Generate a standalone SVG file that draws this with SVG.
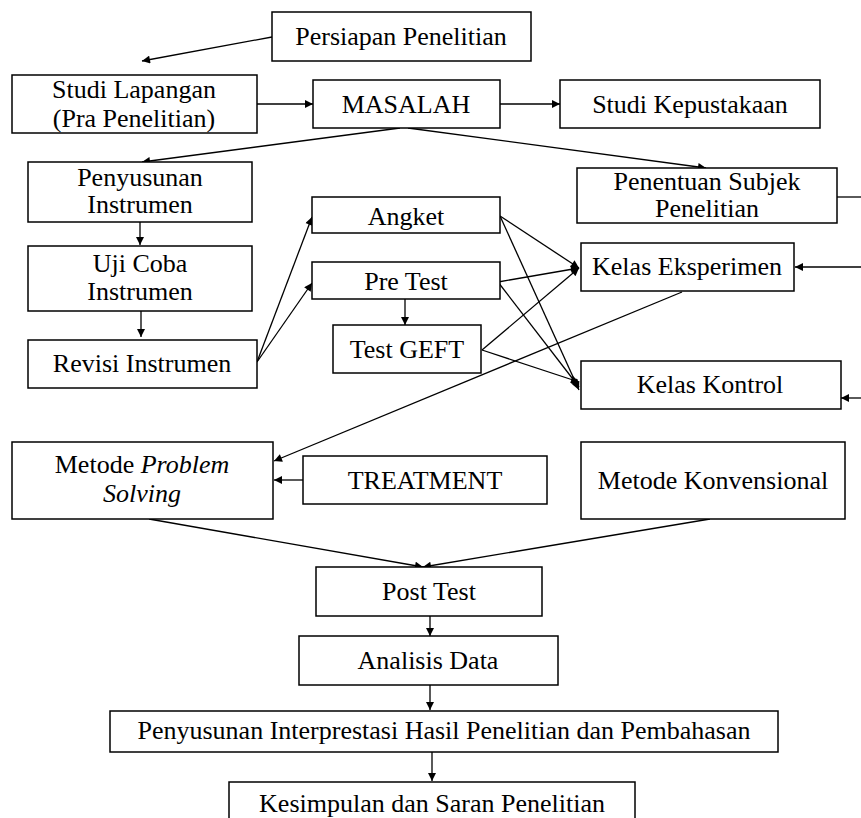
<svg xmlns="http://www.w3.org/2000/svg" width="861" height="818" viewBox="0 0 861 818">
<defs>
<style>
.box{fill:#fff;stroke:#000;stroke-width:1.5}
.t{font-family:"Liberation Serif","Times New Roman",serif;font-size:26px;fill:#000;text-anchor:middle}
.c{fill:none;stroke:#000;stroke-width:1.3}
</style>
<marker id="ah" viewBox="0 0 10 10" refX="10" refY="5" markerWidth="9" markerHeight="8" orient="auto" markerUnits="userSpaceOnUse"><path d="M0,0 L10,5 L0,10 z" fill="#000"/></marker>
</defs>
<rect width="861" height="818" fill="#fff"/>
<g id="connectors">
<line class="c" x1="272" y1="37" x2="142" y2="61" marker-end="url(#ah)"/>
<line class="c" x1="257" y1="104" x2="313" y2="104" marker-end="url(#ah)"/>
<line class="c" x1="500" y1="104" x2="560" y2="104" marker-end="url(#ah)"/>
<line class="c" x1="400" y1="128" x2="142" y2="162" marker-end="url(#ah)"/>
<line class="c" x1="408" y1="128" x2="706" y2="168" marker-end="url(#ah)"/>
<line class="c" x1="140" y1="222" x2="140" y2="245" marker-end="url(#ah)"/>
<line class="c" x1="141" y1="311" x2="141" y2="337" marker-end="url(#ah)"/>
<line class="c" x1="257" y1="362" x2="312" y2="217" marker-end="url(#ah)"/>
<line class="c" x1="257" y1="362" x2="312" y2="283" marker-end="url(#ah)"/>
<line class="c" x1="405" y1="299" x2="405" y2="325" marker-end="url(#ah)"/>
<line class="c" x1="500" y1="216" x2="579" y2="268" marker-end="url(#ah)"/>
<line class="c" x1="500" y1="216" x2="579" y2="390" marker-end="url(#ah)"/>
<line class="c" x1="498" y1="282" x2="579" y2="268" marker-end="url(#ah)"/>
<line class="c" x1="498" y1="282" x2="579" y2="387" marker-end="url(#ah)"/>
<line class="c" x1="482" y1="350" x2="579" y2="268" marker-end="url(#ah)"/>
<line class="c" x1="482" y1="350" x2="579" y2="382" marker-end="url(#ah)"/>
<line class="c" x1="837" y1="197" x2="861" y2="197"/>
<line class="c" x1="861" y1="267" x2="795" y2="267" marker-end="url(#ah)"/>
<line class="c" x1="861" y1="398" x2="841" y2="398" marker-end="url(#ah)"/>
<line class="c" x1="682" y1="292" x2="274" y2="461" marker-end="url(#ah)"/>
<line class="c" x1="303" y1="480" x2="274" y2="480" marker-end="url(#ah)"/>
<line class="c" x1="149" y1="519" x2="423" y2="567" marker-end="url(#ah)"/>
<line class="c" x1="710" y1="519" x2="423" y2="567" marker-end="url(#ah)"/>
<line class="c" x1="430" y1="616" x2="430" y2="636" marker-end="url(#ah)"/>
<line class="c" x1="430" y1="685" x2="430" y2="710" marker-end="url(#ah)"/>
<line class="c" x1="432" y1="752" x2="432" y2="781" marker-end="url(#ah)"/>
</g>
<g id="persiapan"><rect class="box" x="272" y="12" width="259" height="49"/><text class="t" x="401" y="45">Persiapan Penelitian</text></g>
<g id="studi-lapangan"><rect class="box" x="12" y="75" width="245" height="58"/><text class="t" x="134" y="98">Studi Lapangan</text><text class="t" x="134" y="127">(Pra Penelitian)</text></g>
<g id="masalah"><rect class="box" x="313" y="80" width="187" height="48"/><text class="t" x="406" y="113">MASALAH</text></g>
<g id="studi-kepustakaan"><rect class="box" x="560" y="80" width="260" height="48"/><text class="t" x="690" y="113">Studi Kepustakaan</text></g>
<g id="penyusunan-instrumen"><rect class="box" x="28" y="162" width="224" height="60"/><text class="t" x="140" y="186">Penyusunan</text><text class="t" x="140" y="213">Instrumen</text></g>
<g id="uji-coba"><rect class="box" x="28" y="246" width="224" height="65"/><text class="t" x="140" y="272">Uji Coba</text><text class="t" x="140" y="300">Instrumen</text></g>
<g id="revisi"><rect class="box" x="28" y="340" width="229" height="48"/><text class="t" x="142" y="372">Revisi Instrumen</text></g>
<g id="angket"><rect class="box" x="312" y="197" width="188" height="36"/><text class="t" x="406" y="225">Angket</text></g>
<g id="pre-test"><rect class="box" x="312" y="262" width="188" height="37"/><text class="t" x="406" y="290">Pre Test</text></g>
<g id="test-geft"><rect class="box" x="333" y="325" width="148" height="48"/><text class="t" x="407" y="358">Test GEFT</text></g>
<g id="penentuan"><rect class="box" x="577" y="168" width="260" height="55"/><text class="t" x="707" y="190">Penentuan Subjek</text><text class="t" x="707" y="217">Penelitian</text></g>
<g id="kelas-eksperimen"><rect class="box" x="581" y="243" width="213" height="48"/><text class="t" x="687" y="275">Kelas Eksperimen</text></g>
<g id="kelas-kontrol"><rect class="box" x="581" y="361" width="260" height="48"/><text class="t" x="710" y="393">Kelas Kontrol</text></g>
<g id="metode-ps"><rect class="box" x="12" y="442" width="261" height="77"/><text class="t" x="142" y="473">Metode <tspan font-style="italic">Problem</tspan></text><text class="t" x="142" y="502" font-style="italic">Solving</text></g>
<g id="treatment"><rect class="box" x="303" y="456" width="244" height="48"/><text class="t" x="425" y="489">TREATMENT</text></g>
<g id="metode-konvensional"><rect class="box" x="581" y="442" width="264" height="77"/><text class="t" x="713" y="489">Metode Konvensional</text></g>
<g id="post-test"><rect class="box" x="316" y="567" width="226" height="49"/><text class="t" x="429" y="600">Post Test</text></g>
<g id="analisis"><rect class="box" x="299" y="636" width="259" height="49"/><text class="t" x="428" y="669">Analisis Data</text></g>
<g id="penyusunan-interprestasi"><rect class="box" x="110" y="711" width="668" height="41"/><text class="t" x="444" y="739">Penyusunan Interprestasi Hasil Penelitian dan Pembahasan</text></g>
<g id="kesimpulan"><rect class="box" x="229" y="782" width="406" height="50"/><text class="t" x="432" y="812">Kesimpulan dan Saran Penelitian</text></g>
</svg>
